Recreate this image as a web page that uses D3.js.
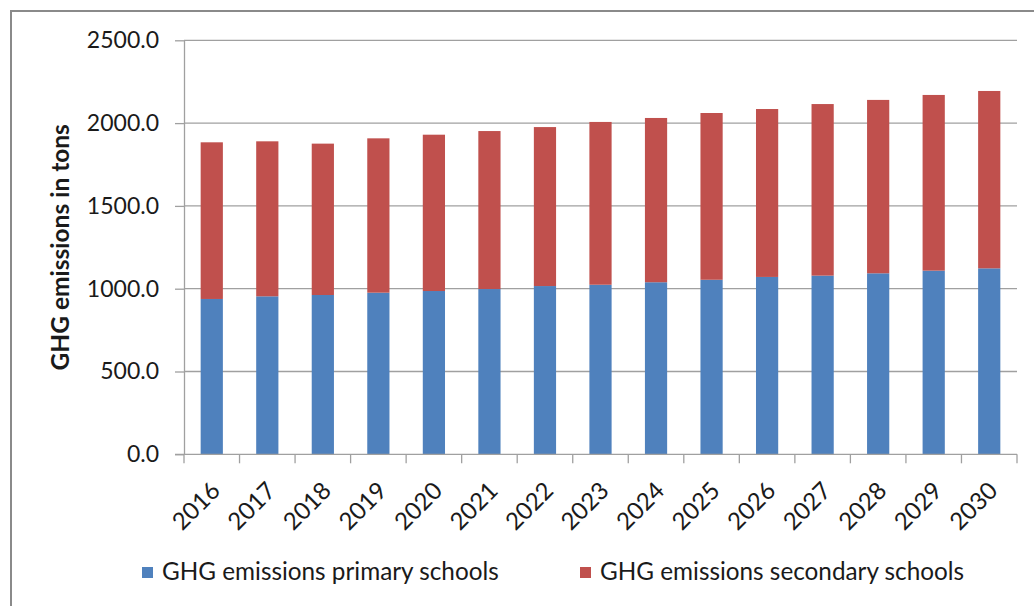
<!DOCTYPE html>
<html>
<head>
<meta charset="utf-8">
<script src="https://cdn.jsdelivr.net/npm/d3@7/dist/d3.min.js"></script>
<style>
  html, body { margin: 0; padding: 0; background: #fff; }
  svg { display: block; font-family: Lato, "Open Sans", sans-serif; }
</style>
</head>
<body>
<svg id="chart" width="1034" height="606"></svg>
<script>
// Greenhouse-gas emissions of schools, tons per year
const years = ["2016","2017","2018","2019","2020","2021","2022","2023","2024","2025","2026","2027","2028","2029","2030"];
const primarySchools = [938, 954, 962, 976, 986, 998, 1016, 1024, 1039, 1054, 1071, 1079, 1093, 1109, 1123];
const secondarySchools = [946, 936, 914, 932, 944, 954, 960, 983, 992, 1007, 1014, 1036, 1047, 1061, 1071];
const seriesNames = ["GHG emissions primary schools", "GHG emissions secondary schools"];
const yTickValues = [0, 500, 1000, 1500, 2000, 2500];
const yTitle = "GHG emissions in tons";

const colors = ["#4F81BD", "#C0504D"];
const gridColor = "#A0A0A0";
const textColor = "#1a1a1a";

const svg = d3.select("#chart");
const plot = { left: 184, right: 1017, top: 40.3, bottom: 454.3 };

// outer frame
svg.append("rect")
  .attr("x", 11).attr("y", 11)
  .attr("width", 1100).attr("height", 700)
  .attr("fill", "none")
  .attr("stroke", "#8A8A8A")
  .attr("stroke-width", 2);

const x = d3.scaleBand()
  .domain(years)
  .range([plot.left, plot.right])
  .paddingInner(0.6)
  .paddingOuter(0.3);

const y = d3.scaleLinear()
  .domain([0, 2500])
  .range([plot.bottom, plot.top]);

// horizontal gridlines
svg.append("g")
  .selectAll("line")
  .data(yTickValues.filter(v => v > 0))
  .join("line")
  .attr("x1", plot.left).attr("x2", plot.right)
  .attr("y1", d => y(d)).attr("y2", d => y(d))
  .attr("stroke", gridColor)
  .attr("stroke-width", 1.3);

// stacked bars
const rows = years.map((yr, i) => ({ year: yr, primary: primarySchools[i], secondary: secondarySchools[i] }));
const stacked = d3.stack().keys(["primary", "secondary"])(rows);

svg.append("g")
  .selectAll("g")
  .data(stacked)
  .join("g")
  .attr("fill", (d, i) => colors[i])
  .selectAll("rect")
  .data(d => d)
  .join("rect")
  .attr("x", d => x(d.data.year))
  .attr("width", x.bandwidth())
  .attr("y", d => y(d[1]))
  .attr("height", d => y(d[0]) - y(d[1]));

// y axis
const yAxis = svg.append("g")
  .attr("transform", `translate(${plot.left},0)`)
  .call(d3.axisLeft(y)
    .tickValues(yTickValues)
    .tickFormat(d3.format(".1f"))
    .tickSize(9)
    .tickSizeOuter(0)
    .tickPadding(16));
yAxis.selectAll("path, line").attr("stroke", gridColor).attr("stroke-width", 1.3);
yAxis.selectAll("text")
  .attr("fill", textColor)
  .style("font-size", "23px")
  .style("font-family", "Lato, sans-serif");

// x axis line and category boundary ticks
const xAxis = svg.append("g");
xAxis.append("line")
  .attr("x1", plot.left - 9).attr("x2", plot.right)
  .attr("y1", plot.bottom).attr("y2", plot.bottom)
  .attr("stroke", gridColor).attr("stroke-width", 1.3);
const boundaries = d3.range(years.length + 1).map(i => x.range()[0] + i * x.step());
xAxis.selectAll("line.tick")
  .data(boundaries)
  .join("line")
  .attr("class", "tick")
  .attr("x1", d => d).attr("x2", d => d)
  .attr("y1", plot.bottom).attr("y2", plot.bottom + 9)
  .attr("stroke", gridColor).attr("stroke-width", 1.3);

// rotated year labels
xAxis.selectAll("text")
  .data(years)
  .join("text")
  .attr("transform", d => `translate(${x(d) + x.bandwidth() / 2 - 2},${plot.bottom + 26}) rotate(-45)`)
  .attr("text-anchor", "end")
  .attr("dy", "0.7em")
  .attr("fill", textColor)
  .style("font-size", "24px")
  .text(d => d);

// y axis title
svg.append("text")
  .attr("transform", `translate(69,${(plot.top + plot.bottom) / 2}) rotate(-90)`)
  .attr("text-anchor", "middle")
  .attr("fill", textColor)
  .style("font-size", "24.5px")
  .style("font-weight", "bold")
  .text(yTitle);

// legend
const legendItems = [
  { name: seriesNames[0], color: colors[0], x: 142 },
  { name: seriesNames[1], color: colors[1], x: 580 }
];
const legend = svg.append("g");
const item = legend.selectAll("g")
  .data(legendItems)
  .join("g")
  .attr("transform", d => `translate(${d.x},567)`);
item.append("rect")
  .attr("width", 11).attr("height", 11)
  .attr("fill", d => d.color);
item.append("text")
  .attr("x", 20).attr("y", 13)
  .attr("fill", textColor)
  .style("font-size", "24.3px")
  .text(d => d.name);
</script>
</body>
</html>
